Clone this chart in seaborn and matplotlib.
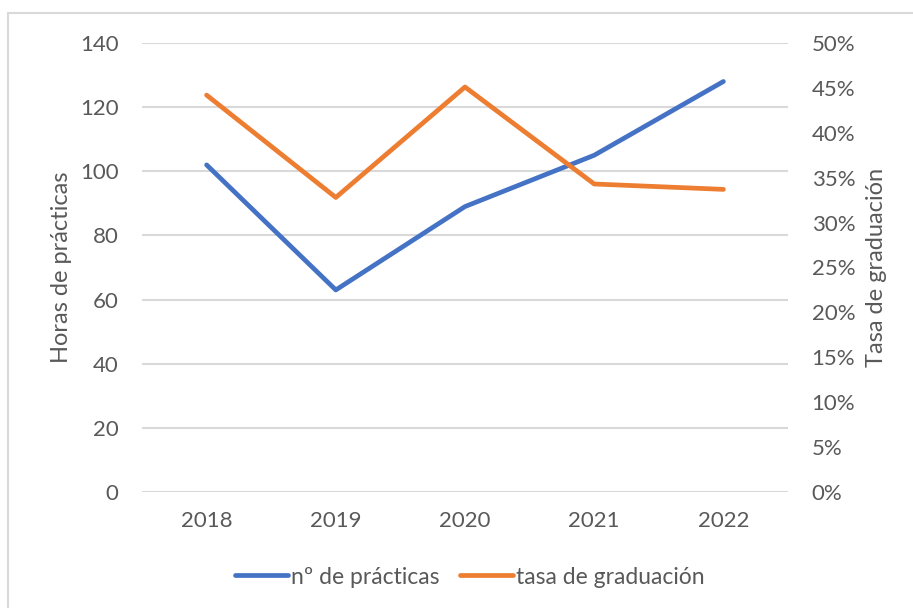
import matplotlib
matplotlib.use("Agg")
import matplotlib.pyplot as plt
from matplotlib.lines import Line2D
from matplotlib.ticker import PercentFormatter, MultipleLocator
import seaborn as sns
import pandas as pd

# data
years = ["2018", "2019", "2020", "2021", "2022"]
horas_practicas = [102, 63, 89, 105, 128]
tasa_graduacion = [0.442, 0.328, 0.451, 0.343, 0.337]

blue = "#4472C4"
orange = "#ED7D31"
txt = "#595959"
grid_col = "#D9D9D9"

sns.set_theme(style="white")
plt.rcParams["font.family"] = ["Lato", "DejaVu Sans"]
plt.rcParams["text.color"] = txt

df = pd.DataFrame({"year": years, "horas": horas_practicas, "tasa": tasa_graduacion})

fig = plt.figure(figsize=(9.13, 6.08), dpi=100)
fig.subplots_adjust(left=142 / 913, right=788 / 913, top=1 - 43 / 608, bottom=1 - 492 / 608)
ax = fig.add_subplot(111)
ax2 = ax.twinx()

sns.lineplot(data=df, x="year", y="horas", ax=ax, color=blue, linewidth=3.4,
             label="nº de prácticas", legend=False, solid_capstyle="round", sort=False)
sns.lineplot(data=df, x="year", y="tasa", ax=ax2, color=orange, linewidth=3.4,
             label="tasa de graduación", legend=False, solid_capstyle="round", sort=False)

ax.set_xlim(-0.5, 4.5)
ax.set_ylim(0, 140)
ax.yaxis.set_major_locator(MultipleLocator(20))
ax2.set_ylim(0, 0.5)
ax2.yaxis.set_major_locator(MultipleLocator(0.05))
ax2.yaxis.set_major_formatter(PercentFormatter(1.0, decimals=0))

ax.grid(axis="y", color=grid_col, linewidth=1.5)
ax.set_axisbelow(True)
for a in (ax, ax2):
    for s in a.spines.values():
        s.set_visible(False)
    a.tick_params(length=0, labelsize=16, labelcolor=txt)
ax.tick_params(axis="y", pad=17)
ax2.tick_params(axis="y", pad=17)
ax.tick_params(axis="x", pad=14)

ax.set_xlabel("")
ax.set_ylabel("Horas de prácticas", fontsize=17, color=txt)
ax2.set_ylabel("Tasa de graduación", fontsize=17, color=txt)
ax.yaxis.set_label_coords((72 - 142) / 646, 0.5)
ax2.yaxis.set_label_coords((866 - 142) / 646, 0.5)

h1, l1 = ax.get_legend_handles_labels()
h2, l2 = ax2.get_legend_handles_labels()
fig.legend(h1 + h2, l1 + l2, loc="center", bbox_to_anchor=(470 / 913, 1 - 577 / 608),
           ncol=2, frameon=False, fontsize=16.5, handlelength=2.3,
           handletextpad=0.15, columnspacing=0.9)

# chart-area border (top and left edges visible in the reference)
fig.add_artist(Line2D([8 / 913, 1], [1 - 13 / 608, 1 - 13 / 608], color=grid_col, linewidth=1.5,
                      transform=fig.transFigure))
fig.add_artist(Line2D([8 / 913, 8 / 913], [0, 1 - 13 / 608], color=grid_col, linewidth=1.5,
                      transform=fig.transFigure))

fig.savefig("out.png", dpi=100, facecolor="white")
